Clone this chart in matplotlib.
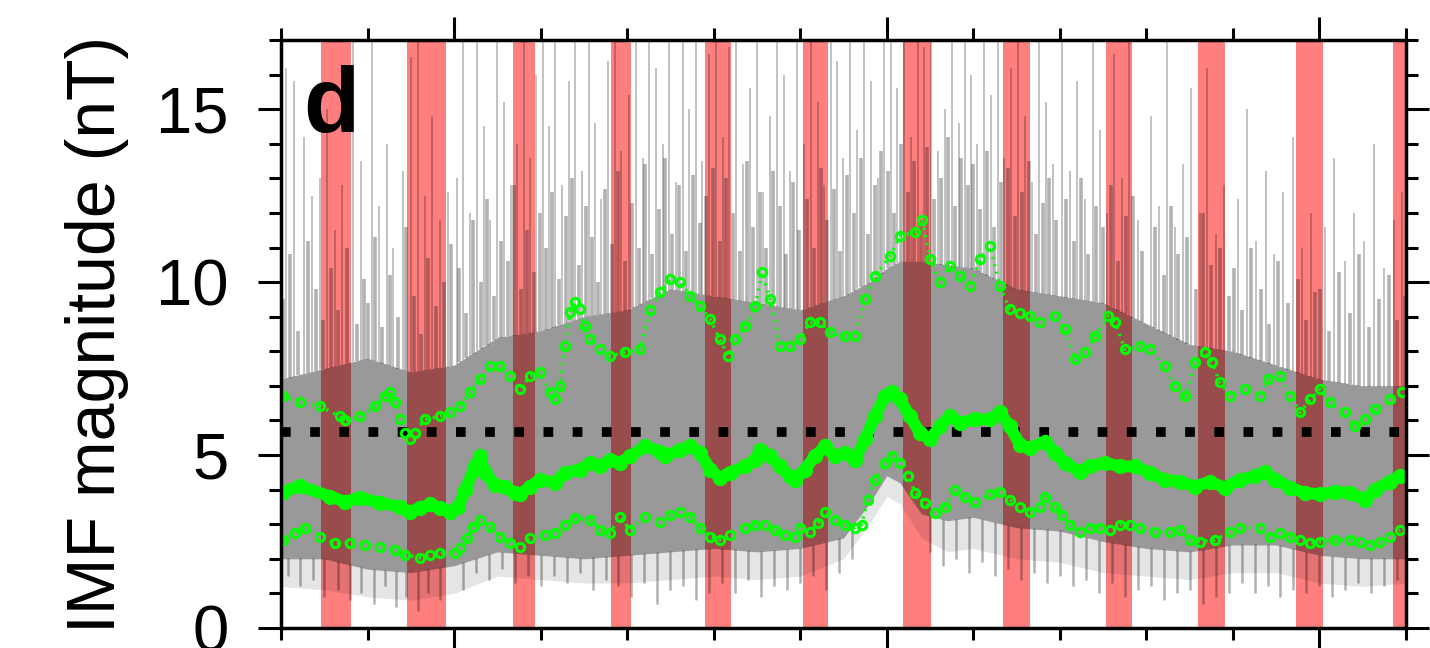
import matplotlib

matplotlib.use("Agg")
import matplotlib.pyplot as plt
import numpy as np
from matplotlib.ticker import FixedLocator, MultipleLocator

plt.rcParams["font.family"] = ["Liberation Sans", "DejaVu Sans"]

# time axis in tick units (0..13), values in nT
band_start = [0.46, 1.46, 2.68, 3.81, 4.90, 6.03, 7.19, 8.34, 9.53, 10.60, 11.73, 12.85]
band_end = [0.81, 1.91, 2.94, 4.04, 5.20, 6.32, 7.51, 8.65, 9.83, 10.91, 12.04, 13.0]

# envelope of the hourly IMF values (dense part and sparse fringe)
env_x = [0, 0.5, 1, 1.5, 2, 2.5, 3, 3.5, 4, 4.5, 5, 5.5, 6, 6.5, 6.8, 7.0, 7.15, 7.4, 7.7, 8,
         8.5, 9, 9.5, 10, 10.5, 11, 11.5, 12, 12.5, 13]
core_lo = [2.0, 2.0, 1.7, 1.6, 1.8, 2.2, 2.1, 2.0, 2.1, 2.2, 2.3, 2.2, 2.3, 2.6, 3.6, 4.4, 4.2, 3.3, 3.1, 3.2,
           2.9, 2.8, 2.5, 2.3, 2.2, 2.4, 2.4, 2.1, 2.0, 2.0]
core_hi = [7.2, 7.5, 7.8, 7.4, 7.6, 8.4, 8.6, 9.0, 9.2, 9.8, 9.6, 9.4, 9.2, 9.6, 10.0, 10.4, 10.6, 10.6, 10.5, 10.4,
           9.8, 9.6, 9.4, 8.8, 8.2, 8.0, 7.6, 7.2, 7.0, 7.0]
fringe_lo = [1.2, 1.1, 0.9, 0.8, 1.0, 1.5, 1.4, 1.3, 1.3, 1.4, 1.5, 1.4, 1.5, 2.0, 3.0, 3.8, 3.6, 2.6, 2.2, 2.3,
             2.0, 1.9, 1.6, 1.5, 1.4, 1.6, 1.6, 1.3, 1.2, 1.3]

# tall isolated values
spike_x = [
    0.06, 0.15, 0.27, 0.36, 0.45, 0.53, 0.62, 0.7, 0.83, 0.92,
    1.05, 1.13, 1.22, 1.3, 1.41, 1.5, 1.58, 1.66, 1.75, 1.84, 1.93,
    2.03, 2.1, 2.18, 2.27, 2.35, 2.42, 2.5, 2.58, 2.66, 2.73, 2.81, 2.88, 2.95,
    3.03, 3.1, 3.17, 3.25, 3.33, 3.4, 3.48, 3.56, 3.63, 3.7, 3.78, 3.86, 3.93,
    4.02, 4.1, 4.18, 4.25, 4.33, 4.41, 4.48, 4.56, 4.64, 4.72, 4.8, 4.87, 4.95,
    5.03, 5.11, 5.18, 5.26, 5.34, 5.42, 5.5, 5.57, 5.65, 5.73, 5.81, 5.88, 5.96,
    6.04, 6.12, 6.2, 6.28, 6.35, 6.43, 6.5, 6.58, 6.66, 6.74, 6.82, 6.9, 6.97,
    7.05, 7.12, 7.2, 7.28, 7.36, 7.43, 7.51, 7.59, 7.67, 7.75, 7.83, 7.9, 7.97,
    8.04, 8.12, 8.2, 8.28, 8.36, 8.44, 8.52, 8.6, 8.68, 8.76, 8.84, 8.92,
    9.03, 9.12, 9.2, 9.29, 9.38, 9.46, 9.55, 9.63, 9.72, 9.8, 9.9,
    10.05, 10.15, 10.24, 10.33, 10.42, 10.52, 10.62, 10.7, 10.8, 10.9,
    11.06, 11.16, 11.27, 11.38, 11.47, 11.58, 11.7, 11.8, 11.9,
    12.06, 12.17, 12.3, 12.4, 12.52, 12.63, 12.75, 12.86, 12.95,
]
spike_top = [
    16.2, 15.8, 14.2, 12.5, 13.0, 15.0, 11.5, 12.8, 17, 13.5,
    17, 12.2, 14.0, 11.0, 13.2, 16.5, 17, 12.5, 14.8, 11.8, 12.6,
    13.0, 17, 12.0, 17, 14.5, 11.8, 17, 15.2, 12.8, 14.0, 17, 13.6, 16.0,
    17, 14.5, 17, 12.8, 15.8, 17, 13.2, 17, 14.6, 12.4, 16.4, 17, 13.8,
    15.4, 17, 13.6, 17, 16.2, 14.0, 17, 12.9, 17, 15.0, 17, 13.5, 16.6,
    17, 14.2, 16.8, 17, 13.4, 15.6, 17, 12.6, 14.8, 17, 16.0, 13.2, 17,
    14.0, 17, 15.2, 12.8, 17, 16.4, 13.6, 17, 14.4, 17, 15.8, 13.0, 17,
    17, 15.6, 17, 14.2, 17, 16.8, 17, 13.8, 15.0, 17, 14.6, 17, 16.0,
    14.0, 17, 15.4, 17, 13.6, 16.2, 17, 14.8, 12.9, 17, 15.2, 13.4,
    17, 13.2, 15.8, 12.4, 17, 14.4, 12.0, 16.6, 13.0, 17, 11.8,
    14.8, 12.2, 17, 11.6, 13.4, 15.6, 12.0, 16.2, 11.4, 12.8,
    12.4, 15.0, 11.2, 13.2, 10.8, 12.6, 14.2, 11.0, 12.0,
    11.6, 13.6, 10.6, 12.0, 11.2, 14.0, 10.4, 11.8, 12.6,
]

# moderately high values just above the dense part
mid_x = [
    0.02, 0.1, 0.2, 0.31, 0.4, 0.49, 0.58, 0.66, 0.76, 0.88, 0.96,
    1.01, 1.09, 1.17, 1.26, 1.35, 1.45, 1.54, 1.62, 1.7, 1.79, 1.88, 1.97,
    2.06, 2.14, 2.22, 2.31, 2.38, 2.46, 2.54, 2.62, 2.69, 2.77, 2.84, 2.92, 2.99,
    3.06, 3.13, 3.21, 3.29, 3.36, 3.44, 3.52, 3.59, 3.66, 3.74, 3.82, 3.89, 3.97,
    4.06, 4.14, 4.21, 4.29, 4.37, 4.44, 4.52, 4.6, 4.68, 4.76, 4.84, 4.91, 4.99,
    5.07, 5.14, 5.22, 5.3, 5.38, 5.46, 5.53, 5.61, 5.69, 5.77, 5.84, 5.92, 5.99,
    6.08, 6.16, 6.24, 6.31, 6.39, 6.46, 6.54, 6.62, 6.7, 6.78, 6.86, 6.93,
    7.01, 7.08, 7.16, 7.24, 7.32, 7.39, 7.47, 7.55, 7.63, 7.71, 7.79, 7.86, 7.94,
    8.0, 8.08, 8.16, 8.24, 8.32, 8.4, 8.48, 8.56, 8.64, 8.72, 8.8, 8.88, 8.96,
    9.07, 9.16, 9.24, 9.33, 9.42, 9.5, 9.59, 9.67, 9.76, 9.85, 9.95,
    10.1, 10.2, 10.28, 10.37, 10.47, 10.57, 10.66, 10.75, 10.85, 10.95,
    11.01, 11.11, 11.21, 11.32, 11.42, 11.52, 11.64, 11.75, 11.85, 11.95,
    12.01, 12.11, 12.23, 12.35, 12.46, 12.57, 12.69, 12.8, 12.9, 12.99,
]
mid_top = [
    9.5, 10.8, 8.6, 11.2, 9.8, 8.9, 10.4, 9.2, 11.0, 8.8, 10.1,
    9.4, 11.3, 8.7, 10.2, 9.0, 11.6, 9.6, 8.5, 10.7, 9.3, 10.0, 11.1,
    10.4, 9.1, 11.8, 10.0, 12.4, 9.6, 11.2, 10.6, 12.8, 9.8, 11.5, 10.3, 12.0,
    11.0, 12.6, 10.1, 11.9, 13.0, 10.5, 12.2, 11.3, 10.0, 12.7, 11.1, 13.2, 10.6,
    12.3, 11.0, 13.4, 10.8, 12.1, 13.6, 11.4, 12.8, 10.9, 13.1, 11.7, 12.5, 13.3,
    11.2, 13.0, 12.0, 10.9, 13.5, 11.6, 12.6, 11.0, 13.2, 12.2, 10.8, 12.9, 11.5,
    12.4, 11.0, 13.3, 11.8, 12.7, 10.9, 13.1, 12.0, 13.6, 11.4, 12.8, 13.8,
    13.2, 12.0, 14.0, 12.6, 13.5, 11.8, 13.9, 12.4, 13.0, 14.2, 12.2, 13.6, 12.8,
    13.4, 12.1, 13.8, 11.6, 12.9, 13.3, 11.9, 12.6, 13.5, 11.4, 12.3, 13.0, 11.8,
    12.4, 11.2, 13.0, 10.8, 12.2, 11.6, 12.8, 10.6, 11.9, 12.5, 10.9,
    11.6, 10.2, 12.2, 10.8, 11.3, 9.8, 12.0, 10.5, 11.0, 9.6,
    10.4, 9.2, 11.0, 9.8, 8.8, 10.6, 9.4, 10.1, 8.9, 9.7,
    9.8, 8.6, 10.3, 9.1, 10.8, 8.7, 9.5, 10.2, 8.9, 9.6,
]

# low values below the dense part
low_x = [0.08, 0.22, 0.37, 0.5, 0.66, 0.8, 0.93,
         1.07, 1.2, 1.33, 1.45, 1.58, 1.7, 1.84,
         2.1, 2.25, 2.4, 2.55, 2.7, 2.85,
         3.0, 3.15, 3.3, 3.45, 3.6, 3.75, 3.9,
         4.05, 4.2, 4.35, 4.5, 4.65, 4.8, 4.95,
         5.1, 5.25, 5.4, 5.55, 5.7, 5.85,
         6.0, 6.15, 6.3, 6.45, 6.6,
         7.5, 7.65, 7.8, 7.95,
         8.1, 8.25, 8.4, 8.55, 8.7, 8.85,
         9.0, 9.15, 9.3, 9.45, 9.6, 9.75, 9.9,
         10.05, 10.2, 10.35, 10.5, 10.65, 10.8, 10.95,
         11.1, 11.25, 11.4, 11.55, 11.7, 11.85,
         12.0, 12.15, 12.3, 12.45, 12.6, 12.75, 12.9]
low_bottom = [1.5, 1.2, 1.4, 0.9, 1.1, 0.8, 1.0,
              0.7, 1.2, 0.6, 0.9, 0.5, 1.0, 0.8,
              1.1, 1.6, 1.4, 1.7, 1.3, 1.5,
              1.2, 1.5, 1.3, 1.6, 1.1, 1.4, 1.2,
              0.9, 1.3, 0.7, 1.1, 1.2, 0.8, 1.0,
              1.3, 1.0, 1.4, 0.9, 1.2, 1.1,
              1.3, 1.5, 1.1, 1.6, 2.0,
              2.2, 1.8, 2.0, 1.6,
              1.9, 1.5, 1.7, 1.4, 1.6, 1.3,
              1.5, 1.2, 1.4, 1.0, 1.3, 0.9, 1.1,
              1.2, 0.8, 1.0, 1.1, 0.7, 0.9, 1.0,
              1.3, 1.0, 1.2, 0.9, 1.1, 1.0,
              1.2, 0.9, 1.1, 1.3, 1.0, 1.2, 1.4]

# running median and percentiles
med_x = [0.02, 0.22, 0.57, 0.74, 0.91, 1.14, 1.38, 1.49, 1.61, 1.72, 1.84, 1.95, 2.05, 2.13, 2.24, 2.30,
         2.36, 2.47, 2.59, 2.70, 2.76, 2.88, 2.99, 3.17, 3.28, 3.46, 3.57, 3.69, 3.80, 3.92, 4.03, 4.21,
         4.38, 4.44, 4.61, 4.73, 4.84, 4.96, 5.07, 5.19, 5.36, 5.48, 5.54, 5.65, 5.77, 5.88, 5.94, 6.05,
         6.17, 6.29, 6.40, 6.52, 6.63, 6.75, 6.86, 6.98, 7.06, 7.15, 7.27, 7.38, 7.50, 7.61, 7.73, 7.85,
         8.02, 8.19, 8.31, 8.42, 8.54, 8.65, 8.83, 8.94, 9.06, 9.23, 9.35, 9.52, 9.69, 9.87, 10.04, 10.21,
         10.39, 10.56, 10.73, 10.91, 11.08, 11.25, 11.37, 11.49, 11.66, 11.83, 12.01, 12.18, 12.35, 12.53,
         12.64, 12.81, 12.93]
med_y = [3.94, 4.10, 3.80, 3.65, 3.77, 3.62, 3.50, 3.36, 3.48, 3.57, 3.48, 3.36, 3.50, 4.00, 4.67, 4.96,
         4.49, 4.14, 4.09, 3.91, 3.86, 4.09, 4.29, 4.20, 4.49, 4.58, 4.78, 4.67, 4.87, 4.78, 4.96, 5.25,
         5.10, 4.96, 5.16, 5.25, 5.07, 4.58, 4.35, 4.49, 4.67, 4.87, 5.16, 4.96, 4.67, 4.38, 4.29, 4.58,
         4.96, 5.25, 4.96, 5.07, 4.87, 5.45, 6.12, 6.70, 6.81, 6.61, 6.12, 5.65, 5.45, 5.83, 6.12, 5.94,
         6.03, 6.03, 6.23, 5.83, 5.30, 5.20, 5.39, 5.07, 4.78, 4.52, 4.67, 4.78, 4.67, 4.67, 4.49, 4.29,
         4.23, 4.09, 4.23, 4.06, 4.29, 4.38, 4.52, 4.29, 4.06, 3.91, 3.86, 3.94, 3.91, 3.71,
         4.00, 4.23, 4.38]

up_x = [0.02, 0.22, 0.45, 0.68, 0.74, 0.91, 1.09, 1.20, 1.26, 1.32, 1.38, 1.43, 1.49, 1.55, 1.66, 1.84,
        1.95, 2.07, 2.18, 2.30, 2.42, 2.53, 2.65, 2.76, 2.88, 2.99, 3.11, 3.17, 3.22, 3.28, 3.34, 3.40,
        3.46, 3.51, 3.57, 3.69, 3.80, 3.98, 4.15, 4.26, 4.38, 4.50, 4.61, 4.73, 4.84, 4.96, 5.07, 5.17,
        5.25, 5.36, 5.48, 5.56, 5.65, 5.77, 5.88, 6.00, 6.11, 6.23, 6.34, 6.52, 6.63, 6.75, 6.86, 7.04,
        7.15, 7.33, 7.41, 7.50, 7.61, 7.73, 7.85, 7.96, 8.08, 8.19, 8.31, 8.42, 8.54, 8.65, 8.77, 8.94,
        9.06, 9.17, 9.29, 9.41, 9.56, 9.64, 9.75, 9.93, 10.04, 10.21, 10.33, 10.45, 10.56, 10.68, 10.76,
        10.85, 10.97, 11.14, 11.31, 11.41, 11.54, 11.66, 11.78, 11.89, 12.01, 12.12, 12.29, 12.41, 12.53,
        12.64, 12.81, 12.95]
up_y = [6.70, 6.52, 6.41, 6.12, 6.00, 6.12, 6.41, 6.70, 6.81, 6.52, 6.03, 5.65, 5.45, 5.65, 6.03, 6.12,
        6.23, 6.41, 6.81, 7.19, 7.57, 7.57, 7.28, 6.90, 7.28, 7.39, 6.81, 6.61, 6.99, 8.14, 9.13, 9.42,
        9.22, 8.72, 8.35, 8.06, 7.86, 7.97, 8.06, 9.20, 9.70, 10.10, 10.00, 9.60, 9.30, 8.93, 8.35, 7.86,
        8.35, 8.72, 9.30, 10.29, 9.50, 8.14, 8.14, 8.35, 8.84, 8.84, 8.55, 8.43, 8.43, 9.50, 10.17, 10.75,
        11.33, 11.45, 11.80, 10.67, 10.00, 10.46, 10.17, 9.88, 10.67, 11.04, 9.88, 9.22, 9.10, 9.01, 8.84,
        9.01, 8.64, 7.77, 7.97, 8.43, 9.01, 8.84, 8.06, 8.14, 8.06, 7.57, 6.99, 6.70, 7.68, 7.97, 7.68,
        7.10, 6.70, 6.90, 6.70, 7.19, 7.28, 6.70, 6.23, 6.61, 6.90, 6.52, 6.23, 5.83, 6.03,
        6.32, 6.61, 6.81]

lo_x = [0.02, 0.16, 0.28, 0.45, 0.62, 0.80, 0.97, 1.14, 1.32, 1.43, 1.61, 1.72, 1.84, 2.01, 2.07, 2.15,
        2.22, 2.30, 2.42, 2.53, 2.65, 2.76, 2.88, 3.05, 3.17, 3.28, 3.40, 3.57, 3.69, 3.80, 3.92, 4.03,
        4.21, 4.38, 4.50, 4.61, 4.73, 4.84, 4.96, 5.07, 5.19, 5.36, 5.48, 5.59, 5.71, 5.82, 5.94, 6.00,
        6.11, 6.21, 6.29, 6.40, 6.52, 6.63, 6.71, 6.78, 6.86, 6.98, 7.06, 7.15, 7.25, 7.33, 7.44, 7.56,
        7.67, 7.79, 7.90, 8.02, 8.19, 8.31, 8.42, 8.54, 8.65, 8.77, 8.83, 8.94, 9.02, 9.12, 9.23, 9.35,
        9.46, 9.58, 9.69, 9.81, 9.93, 10.10, 10.27, 10.39, 10.50, 10.62, 10.79, 10.97, 11.08, 11.31,
        11.43, 11.54, 11.66, 11.78, 11.89, 12.01, 12.18, 12.35, 12.47, 12.58, 12.70, 12.81, 12.93]
lo_y = [2.55, 2.75, 2.90, 2.64, 2.46, 2.46, 2.41, 2.35, 2.26, 2.12, 2.03, 2.12, 2.17, 2.17, 2.30, 2.60,
        2.93, 3.13, 2.93, 2.64, 2.46, 2.35, 2.61, 2.70, 2.75, 2.99, 3.19, 3.13, 2.84, 2.75, 3.22, 2.84,
        3.22, 3.07, 3.28, 3.36, 3.22, 2.90, 2.64, 2.55, 2.70, 2.90, 2.99, 2.99, 2.84, 2.70, 2.64, 2.90,
        2.78, 3.04, 3.36, 3.13, 2.99, 2.90, 2.99, 3.71, 4.29, 4.78, 4.96, 4.78, 4.38, 3.91, 3.62, 3.33,
        3.51, 4.00, 3.80, 3.65, 3.86, 3.94, 3.71, 3.50, 3.36, 3.51, 3.80, 3.51, 3.28, 2.99, 2.78, 2.90,
        2.90, 2.84, 2.99, 2.99, 2.90, 2.78, 2.78, 2.84, 2.55, 2.49, 2.55, 2.78, 2.90, 2.90,
        2.64, 2.75, 2.64, 2.55, 2.46, 2.49, 2.55, 2.55, 2.49, 2.41, 2.49, 2.64, 2.84]

threshold = 5.68

LIME = "#00ff00"

fig = plt.figure(figsize=(14.3, 6.48), dpi=100)
ax = fig.add_axes([0.1965, 0.0309, 0.7867, 0.9074])

for x0, x1 in zip(band_start, band_end):
    ax.axvspan(x0, x1, color=(1, 0, 0), alpha=0.5, lw=0, zorder=1)

# dense body of the hourly data, then the scattered high and low hours
ax.fill_between(env_x, core_lo, core_hi, color="k", alpha=0.4, lw=0, antialiased=False, zorder=2)
ax.fill_between(env_x, fringe_lo, core_lo, color="k", alpha=0.1, lw=0, antialiased=False, zorder=2)
mid_base = np.interp(mid_x, env_x, core_hi) - 0.02
spike_base = np.interp(spike_x, env_x, core_hi) - 0.02
low_base = np.interp(low_x, env_x, core_lo) + 0.02
ax.vlines(mid_x, mid_base, mid_top, color="k", alpha=0.3, lw=2.6, zorder=2)
ax.vlines(spike_x, spike_base, spike_top, color="k", alpha=0.26, lw=1.3, zorder=2)
ax.vlines(low_x, low_bottom, low_base, color="k", alpha=0.3, lw=1.8, zorder=2)

ax.axhline(threshold, color="k", lw=7, linestyle=(0, (1.0, 2.0)), dash_capstyle="butt", zorder=3)

ax.plot(med_x, med_y, color=LIME, lw=8.5, marker="o", ms=10, solid_joinstyle="round", zorder=5)
for xs, ys in [(up_x, up_y), (lo_x, lo_y)]:
    ax.plot(xs, ys, color=LIME, lw=2.5, linestyle=(0, (0.6, 1.6)), zorder=4)
    ax.plot(xs, ys, ls="none", marker="o", ms=6, mfc="none", mec=LIME, mew=2.2, zorder=4)

ax.set_xlim(0, 13)
ax.set_ylim(0, 17)
ax.xaxis.set_major_locator(FixedLocator([2, 7, 12]))
ax.xaxis.set_minor_locator(MultipleLocator(1))
ax.yaxis.set_major_locator(MultipleLocator(5))
ax.yaxis.set_minor_locator(MultipleLocator(1))
ax.tick_params(which="both", direction="out", top=True, right=True, bottom=True, left=True,
               labelbottom=False, width=2.2, labelsize=47, pad=21)
ax.tick_params(which="major", length=16.5)
ax.tick_params(which="minor", length=8.5)
for sp in ax.spines.values():
    sp.set_linewidth(2.5)
    sp.set_zorder(6)

ax.set_ylabel("IMF magnitude (nT)", fontsize=49, labelpad=20)
ax.text(0.02, 0.8435, "d", transform=ax.transAxes, fontsize=66, fontweight="bold",
        va="baseline", ha="left", zorder=7)

fig.savefig("out.png", dpi=100, facecolor="white")
